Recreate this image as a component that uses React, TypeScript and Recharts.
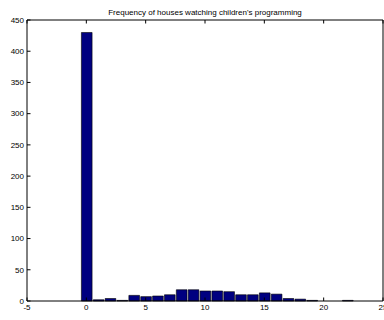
import React from 'react';
import { ComposedChart, Bar, XAxis, YAxis } from 'recharts';

const TITLE = "Frequency of houses watching children's programming";

// histogram bins (centres) and counts
const binCenters = [0, 1, 2, 3, 4, 5, 6, 7, 8, 9, 10, 11, 12, 13, 14, 15, 16, 17, 18, 19, 20, 21, 22];
const counts = [430, 2, 4, 1, 9, 7, 8, 10, 18, 18, 16, 16, 15, 10, 10, 13, 11, 4, 3, 1, 0, 0, 1];

const xTicks = [-5, 0, 5, 10, 15, 20, 25];
const yTicks = [0, 50, 100, 150, 200, 250, 300, 350, 400, 450];

const W = 384;
const H = 320;
const PLOT_LEFT = 27;
const PLOT_RIGHT = 383;
const PLOT_W = PLOT_RIGHT - PLOT_LEFT;
const FONT = '"Liberation Sans", Arial, Helvetica, sans-serif';
const TICK = 3.5;

const data = binCenters.map((x, i) => ({ x, count: counts[i] }));

function BottomTick({ x, y, payload }: any) {
    return (
        <g>
            <line x1={x} x2={x} y1={y} y2={y - TICK} stroke="#000" />
            <text x={x} y={y + 9} textAnchor="middle" fontSize={8} fontFamily={FONT} fill="#000">
                {payload.value}
            </text>
        </g>
    );
}

function LeftTick({ x, y, payload }: any) {
    return (
        <g>
            <line x1={x} x2={x + TICK} y1={y} y2={y} stroke="#000" />
            <text x={x - 3} y={y} dy="0.35em" textAnchor="end" fontSize={8} fontFamily={FONT} fill="#000">
                {payload.value}
            </text>
        </g>
    );
}

function TopTick({ x, y }: any) {
    return <line x1={x} x2={x} y1={y} y2={y + TICK} stroke="#000" />;
}

function RightTick({ x, y }: any) {
    return <line x1={x} x2={x - TICK} y1={y} y2={y} stroke="#000" />;
}

export default function App() {
    return (
        <div style={{ position: 'absolute', left: 0, top: 0, width: W, height: H, background: '#fff' }}>
            <svg width={W} height={H} style={{ position: 'absolute', left: 0, top: 0, pointerEvents: 'none' }}>
                <text x={PLOT_LEFT + PLOT_W / 2} y={15} textAnchor="middle" fontSize={8} fontFamily={FONT} fill="#000">
                    {TITLE}
                </text>
            </svg>
            <ComposedChart
                width={W}
                height={H}
                data={data}
                margin={{ top: 19, right: 0, bottom: 0, left: 0 }}
                barGap={0}
                barCategoryGap={0}
            >
                <XAxis
                    dataKey="x"
                    type="number"
                    domain={[-5, 25]}
                    ticks={xTicks}
                    interval={0}
                    height={19}
                    tickSize={0}
                    tickMargin={0}
                    tickLine={false}
                    axisLine={{ stroke: '#000' }}
                    tick={BottomTick}
                />
                <XAxis
                    xAxisId="top"
                    orientation="top"
                    dataKey="x"
                    type="number"
                    domain={[-5, 25]}
                    ticks={xTicks}
                    interval={0}
                    height={1}
                    tickSize={0}
                    tickMargin={0}
                    tickLine={false}
                    axisLine={{ stroke: '#000' }}
                    tick={TopTick}
                />
                <YAxis
                    type="number"
                    domain={[0, 450]}
                    ticks={yTicks}
                    interval={0}
                    width={27}
                    tickSize={0}
                    tickMargin={0}
                    tickLine={false}
                    axisLine={{ stroke: '#000' }}
                    tick={LeftTick}
                />
                <YAxis
                    yAxisId="right"
                    orientation="right"
                    type="number"
                    domain={[0, 450]}
                    ticks={yTicks}
                    interval={0}
                    width={1}
                    tickSize={0}
                    tickMargin={0}
                    tickLine={false}
                    axisLine={{ stroke: '#000' }}
                    tick={RightTick}
                />
                <Bar
                    dataKey="count"
                    fill="#000080"
                    stroke="#000"
                    strokeWidth={0.6}
                    barSize={PLOT_W / 30}
                    isAnimationActive={false}
                />
            </ComposedChart>
        </div>
    );
}
